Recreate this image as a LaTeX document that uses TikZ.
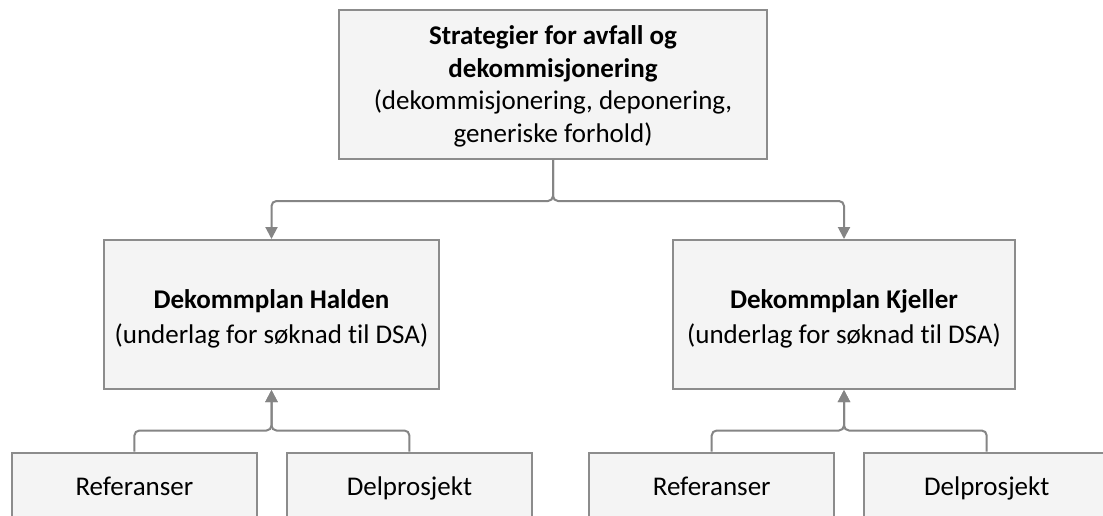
\documentclass[tikz,border=0pt]{standalone}
\usepackage{fontspec}
\setmainfont{Carlito}[Ligatures=NoCommon]
\usetikzlibrary{arrows.meta}
\definecolor{boxfill}{HTML}{F4F4F4}
\definecolor{boxline}{HTML}{8C8C8C}
\definecolor{connc}{HTML}{858585}
\newcommand{\topstrut}[1]{\rule{0pt}{#1}}
\begin{document}
\begin{tikzpicture}[x=1pt,y=-1pt,
  box/.style={draw=boxline, fill=boxfill, line width=2pt, align=center, inner sep=0pt, font=\fontsize{27}{35}\selectfont},
  mainbox/.style={box, font=\fontsize{27}{32.6}\selectfont, minimum width=428pt, minimum height=149pt},
  midbox/.style={box, minimum height=149pt},
  lowbox/.style={box, minimum width=245pt, minimum height=70pt, text height=20pt, text depth=5pt},
  conn/.style={draw=connc, line width=2pt, rounded corners=5pt},
  arr/.style={conn, -{Triangle[length=12pt,width=12pt]}}]
\fill[white] (0,0) rectangle (1103,516);
\clip (0,0) rectangle (1103,516);
\node[mainbox] (top) at (553,84.5)
  {\topstrut{23pt}\textbf{Strategier for avfall og}\\\textbf{dekommisjonering}\\(dekommisjonering, deponering,\\generiske forhold)};
\node[midbox, minimum width=335pt] (halden) at (271.5,314.5)
  {\topstrut{27pt}\textbf{Dekommplan Halden}\\(underlag for søknad til DSA)};
\node[midbox, minimum width=342pt] (kjeller) at (844,314.5)
  {\topstrut{27pt}\textbf{Dekommplan Kjeller}\\(underlag for søknad til DSA)};
\node[lowbox] (refL) at (134.4,487.5) {Referanser};
\node[lowbox] (delL) at (409.4,487.5) {Delprosjekt};
\node[lowbox] (refR) at (711.7,487.5) {Referanser};
\node[lowbox] (delR) at (986.7,487.5) {Delprosjekt};
\draw[arr] (top.south) -- ++(0,41) -| (halden.north);
\draw[arr] (top.south) -- ++(0,41) -| (kjeller.north);
\draw[arr] (refL.north) -- ++(0,-21) -| (halden.south);
\draw[arr] (delL.north) -- ++(0,-21) -| (halden.south);
\draw[arr] (refR.north) -- ++(0,-21) -| (kjeller.south);
\draw[arr] (delR.north) -- ++(0,-21) -| (kjeller.south);
\end{tikzpicture}
\end{document}
